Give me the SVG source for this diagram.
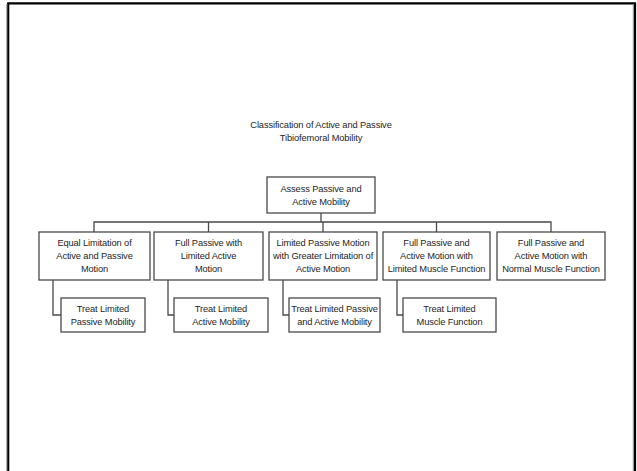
<svg xmlns="http://www.w3.org/2000/svg" width="637" height="471" viewBox="0 0 637 471">
  <style>
    .box { fill: #ffffff; stroke: #4a4a4a; stroke-width: 1.3; }
    .wire { fill: none; stroke: #4a4a4a; stroke-width: 1.3; }
    text { font-family: "Liberation Sans", Arial, sans-serif; font-size: 9.3px; letter-spacing: -0.12px; fill: #1e1e1e; text-anchor: middle; }
  </style>
  <rect width="637" height="471" fill="#ffffff"/>

  <!-- page frame -->
  <g id="frame" fill="none">
    <path d="M8.2 471 V3.3 H635 V471" stroke="#000000" stroke-width="2.2"/>
    <line x1="6.8" y1="4" x2="6.8" y2="471" stroke="#8a8a8a" stroke-width="1"/>
    <line x1="633.3" y1="4.5" x2="633.3" y2="471" stroke="#8a8a8a" stroke-width="1"/>
  </g>

  <!-- title -->
  <g id="title">
    <text x="321" y="127.5">Classification of Active and Passive</text>
    <text x="321" y="141">Tibiofemoral Mobility</text>
  </g>

  <!-- connectors -->
  <g id="connectors">
    <path class="wire" d="M321 213 V222"/>
    <path class="wire" d="M94 232 V222 H551 V232"/>
    <path class="wire" d="M208.5 222 V232"/>
    <path class="wire" d="M323 222 V232"/>
    <path class="wire" d="M436.5 222 V232"/>
    <path class="wire" d="M53 280 V315 H61"/>
    <path class="wire" d="M168 280 V315 H174"/>
    <path class="wire" d="M283 280 V315 H289"/>
    <path class="wire" d="M397 280 V315 H403"/>
  </g>

  <!-- root -->
  <g id="assess">
    <rect class="box" x="267" y="177" width="108" height="36"/>
    <text x="321" y="192">Assess Passive and</text>
    <text x="321" y="205">Active Mobility</text>
  </g>

  <!-- classification categories -->
  <g id="equal-limitation">
    <rect class="box" x="39" y="232" width="111" height="48"/>
    <text x="94.5" y="245.5">Equal Limitation of</text>
    <text x="94.5" y="258.5">Active and Passive</text>
    <text x="94.5" y="272">Motion</text>
  </g>
  <g id="full-passive-limited-active">
    <rect class="box" x="154" y="232" width="109" height="48"/>
    <text x="208.5" y="245.5">Full Passive with</text>
    <text x="208.5" y="258.5">Limited Active</text>
    <text x="208.5" y="272">Motion</text>
  </g>
  <g id="limited-passive-greater-active">
    <rect class="box" x="269" y="232" width="108" height="48"/>
    <text x="323" y="245.5">Limited Passive Motion</text>
    <text x="323" y="258.5">with Greater Limitation of</text>
    <text x="323" y="272">Active Motion</text>
  </g>
  <g id="full-limited-muscle">
    <rect class="box" x="383" y="232" width="107" height="48"/>
    <text x="436.5" y="245.5">Full Passive and</text>
    <text x="436.5" y="258.5">Active Motion with</text>
    <text x="436.5" y="272">Limited Muscle Function</text>
  </g>
  <g id="full-normal-muscle">
    <rect class="box" x="497" y="232" width="108" height="48"/>
    <text x="551" y="245.5">Full Passive and</text>
    <text x="551" y="258.5">Active Motion with</text>
    <text x="551" y="272">Normal Muscle Function</text>
  </g>

  <!-- treatments -->
  <g id="treat-passive">
    <rect class="box" x="61" y="298" width="84" height="34"/>
    <text x="103" y="311.5">Treat Limited</text>
    <text x="103" y="324.5">Passive Mobility</text>
  </g>
  <g id="treat-active">
    <rect class="box" x="174" y="298" width="94" height="34"/>
    <text x="221" y="311.5">Treat Limited</text>
    <text x="221" y="324.5">Active Mobility</text>
  </g>
  <g id="treat-passive-active">
    <rect class="box" x="289" y="298" width="91" height="34"/>
    <text x="334.5" y="311.5">Treat Limited Passive</text>
    <text x="334.5" y="324.5">and Active Mobility</text>
  </g>
  <g id="treat-muscle">
    <rect class="box" x="403" y="298" width="93" height="34"/>
    <text x="449.5" y="311.5">Treat Limited</text>
    <text x="449.5" y="324.5">Muscle Function</text>
  </g>
</svg>
